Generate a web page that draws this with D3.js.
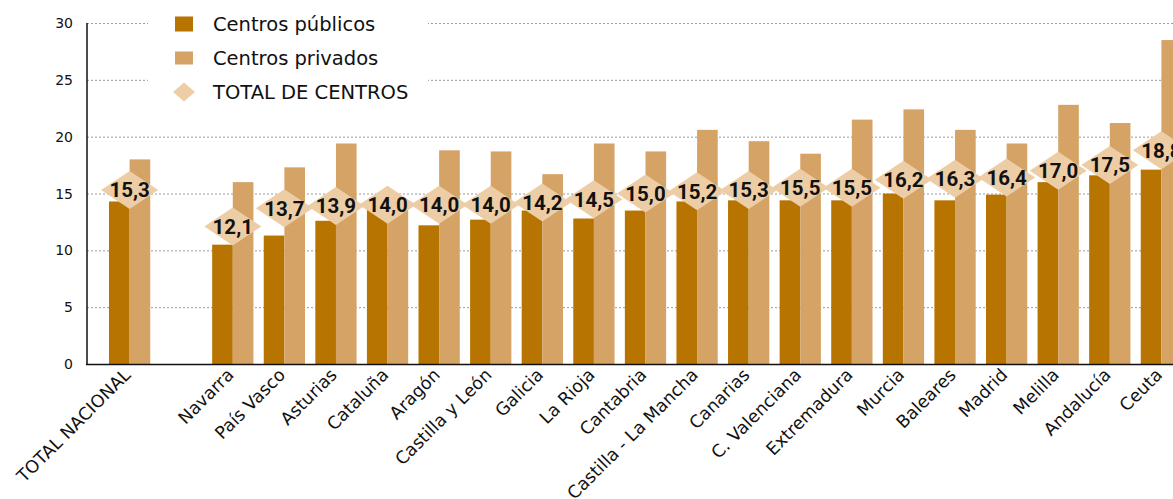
<!DOCTYPE html>
<html>
<head>
<meta charset="utf-8">
<script src="https://cdn.jsdelivr.net/npm/d3@7"></script>
<style>
  body { margin: 0; background: #fff; }
  svg { display: block; }
</style>
</head>
<body>
<div id="chart"></div>
<script>
var categories = ["TOTAL NACIONAL", "", "Navarra", "País Vasco", "Asturias", "Cataluña", "Aragón",
  "Castilla y León", "Galicia", "La Rioja", "Cantabria", "Castilla - La Mancha", "Canarias",
  "C. Valenciana", "Extremadura", "Murcia", "Baleares", "Madrid", "Melilla", "Andalucía", "Ceuta"];
var publicos = [14.3, null, 10.5, 11.3, 12.6, 13.9, 12.2, 12.7, 13.5, 12.8, 13.5, 14.3, 14.4,
  14.4, 14.4, 15.0, 14.4, 14.9, 16.0, 16.6, 17.1];
var privados = [18.0, null, 16.0, 17.3, 19.4, 14.2, 18.8, 18.7, 16.7, 19.4, 18.7, 20.6, 19.6,
  18.5, 21.5, 22.4, 20.6, 19.4, 22.8, 21.2, 28.5];
var totales = [15.3, null, 12.1, 13.7, 13.9, 14.0, 14.0, 14.0, 14.2, 14.5, 15.0, 15.2, 15.3,
  15.5, 15.5, 16.2, 16.3, 16.4, 17.0, 17.5, 18.8];
var yTicks = [0, 5, 10, 15, 20, 25, 30];
var legendLabels = ["Centros públicos", "Centros privados", "TOTAL DE CENTROS"];

var colPub = "#b87400", colPriv = "#d5a366", colTot = "#edcda6";

var w = 1173, h = 499;
var svg = d3.select("#chart").append("svg")
  .attr("width", w)
  .attr("height", h);

var data = categories.map(function(c, i) {
  return {name: c, pub: publicos[i], priv: privados[i], tot: totales[i]};
});

var x = d3.scaleBand()
  .domain(categories)
  .range([87, 1204])
  .paddingInner(0.2)
  .paddingOuter(0.426);
var y = d3.scaleLinear()
  .domain([0, 30])
  .range([364, 23]);

var bw = x.bandwidth() / 2;
var fmt = function(v) { return d3.format(".1f")(v).replace(".", ","); };

// gridlines
svg.append("g").selectAll("line")
  .data(yTicks.filter(d => d > 0))
  .enter().append("line")
    .attr("x1", 87).attr("x2", w)
    .attr("y1", d => y(d) + 0.5).attr("y2", d => y(d) + 0.5)
    .attr("stroke", "#9a9a9a")
    .attr("stroke-width", 1)
    .attr("stroke-dasharray", "2,2");

// bars
var bars = data.filter(d => d.pub != null);
svg.append("g").selectAll("rect")
  .data(bars)
  .enter().append("rect")
    .attr("x", d => x(d.name))
    .attr("y", d => y(d.pub))
    .attr("width", bw)
    .attr("height", d => y(0) - y(d.pub))
    .attr("fill", colPub);
svg.append("g").selectAll("rect")
  .data(bars)
  .enter().append("rect")
    .attr("x", d => x(d.name) + bw)
    .attr("y", d => y(d.priv))
    .attr("width", bw)
    .attr("height", d => y(0) - y(d.priv))
    .attr("fill", colPriv);

// diamonds with totals
var diamond = function(cx, cy, rx, ry) {
  return "M" + (cx - rx) + "," + cy + "L" + cx + "," + (cy - ry) +
    "L" + (cx + rx) + "," + cy + "L" + cx + "," + (cy + ry) + "Z";
};
var totG = svg.append("g").selectAll("g")
  .data(bars)
  .enter().append("g");
totG.append("path")
  .attr("d", d => diamond(x(d.name) + bw, y(d.tot), 28.5, 19))
  .attr("fill", colTot);
totG.append("text")
  .attr("x", d => x(d.name) + bw)
  .attr("y", d => y(d.tot))
  .attr("dy", "0.36em")
  .attr("text-anchor", "middle")
  .style("font-family", "Roboto, 'Noto Sans', sans-serif")
  .style("font-weight", "bold")
  .style("font-size", "20.5px")
  .attr("fill", "#111")
  .text(d => fmt(d.tot));

// axes
svg.append("line")
  .attr("x1", 87).attr("x2", 87).attr("y1", 23).attr("y2", 365)
  .attr("stroke", "#111").attr("stroke-width", 1.5);
svg.append("line")
  .attr("x1", 86).attr("x2", w).attr("y1", 364.5).attr("y2", 364.5)
  .attr("stroke", "#111").attr("stroke-width", 1.5);

svg.append("g").selectAll("text")
  .data(yTicks)
  .enter().append("text")
    .attr("x", 73)
    .attr("y", d => y(d))
    .attr("dy", "0.36em")
    .attr("text-anchor", "end")
    .style("font-family", "'DejaVu Sans', sans-serif")
    .style("font-size", "14px")
    .attr("fill", "#111")
    .text(d => d);

svg.append("g").selectAll("text")
  .data(data.filter(d => d.name !== ""))
  .enter().append("text")
    .attr("transform", d => "translate(" + (x(d.name) + bw + 2) + ",376) rotate(-45)")
    .attr("text-anchor", "end")
    .style("font-family", "'DejaVu Sans', sans-serif")
    .style("font-size", "17.5px")
    .attr("fill", "#111")
    .text(d => d.name);

// legend
var leg = svg.append("g");
leg.append("rect")
  .attr("x", 148).attr("y", 5).attr("width", 280).attr("height", 100)
  .attr("fill", "#fff");
var legY = [24, 58, 92];
leg.append("rect")
  .attr("x", 175).attr("y", legY[0] - 7.5).attr("width", 18).attr("height", 15)
  .attr("fill", colPub);
leg.append("rect")
  .attr("x", 175).attr("y", legY[1] - 6.5).attr("width", 18).attr("height", 13)
  .attr("fill", colPriv);
leg.append("path")
  .attr("d", diamond(184, legY[2], 11, 9.5))
  .attr("fill", colTot);
leg.selectAll("text")
  .data(legendLabels)
  .enter().append("text")
    .attr("x", 213)
    .attr("y", (d, i) => legY[i])
    .attr("dy", "0.36em")
    .style("font-family", "'DejaVu Sans', sans-serif")
    .style("font-size", "19.5px")
    .attr("fill", "#111")
    .text(d => d);
</script>
</body>
</html>
